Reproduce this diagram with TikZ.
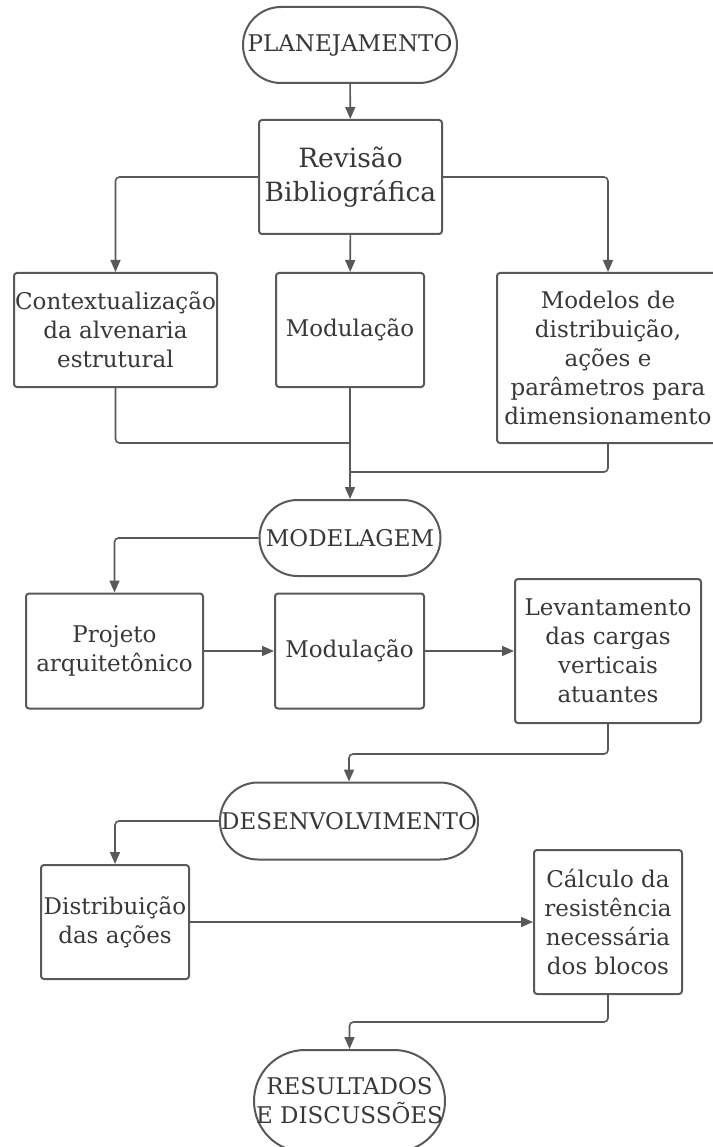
\documentclass[tikz,border=0pt]{standalone}
\usepackage{fontspec}
\setmainfont{DejaVu Serif}
\usepackage{xcolor}
\usetikzlibrary{arrows.meta,positioning}
\definecolor{linegray}{HTML}{595959}
\definecolor{textgray}{HTML}{383838}

\begin{document}
\begin{tikzpicture}[
  x=1pt, y=-1pt,
  every node/.style={font=\fontsize{23}{29}\selectfont, text=textgray},
  box/.style={draw=linegray, line width=2pt, rounded corners=3pt, align=center, inner sep=1pt},
  stadium/.style={draw=linegray, line width=2pt, rounded corners=#1, align=center, inner sep=1pt},
  arrow/.style={-{Triangle[length=12pt,width=10pt]}, draw=linegray, line width=1.6pt, rounded corners=4pt},
  link/.style={draw=linegray, line width=1.6pt, rounded corners=4pt}
]
\useasboundingbox (0,0) rectangle (712,1147);

% planejamento
\node[stadium=38pt, minimum width=214pt, minimum height=76pt] (plan) at (350,45) {PLANEJAMENTO};
\node[box, minimum width=183pt, minimum height=114pt, font=\fontsize{26.5}{34}\selectfont] (rev) at (350.5,177) {Revisão\\Bibliográfica};
\node[box, minimum width=203pt, minimum height=114pt] (ctx) at (115.5,330) {Contextualização\\da alvenaria\\estrutural};
\node[box, minimum width=148pt, minimum height=114pt] (mod1) at (350,330) {Modulação};
\node[box, minimum width=222pt, minimum height=170pt] (mdl) at (608,358) {Modelos de\\distribuição,\\ações e\\parâmetros para\\dimensionamento};
\coordinate (j1) at (350,443);
\coordinate (j2) at (350,472);

% modelagem
\node[stadium=38pt, minimum width=181pt, minimum height=76pt] (modl) at (350,538) {MODELAGEM};
\node[box, minimum width=177pt, minimum height=115pt] (proj) at (114.5,651) {Projeto\\arquitetônico};
\node[box, minimum width=149pt, minimum height=115pt] (mod2) at (349.5,651) {Modulação};
\node[box, minimum width=186pt, minimum height=144pt] (lev) at (608,651) {Levantamento\\das cargas\\verticais\\atuantes};

% desenvolvimento
\node[stadium=38pt, minimum width=258pt, minimum height=77pt] (desv) at (349,821) {DESENVOLVIMENTO};
\node[box, minimum width=148pt, minimum height=114pt] (dist) at (115,922) {Distribuição\\das ações};
\node[box, minimum width=148pt, minimum height=144pt] (calc) at (608,922) {Cálculo da\\resistência\\necessária\\dos blocos};
\node[stadium=51pt, minimum width=191pt, minimum height=102pt] (res) at (349.5,1101) {RESULTADOS\\E DISCUSSÕES};

\draw[arrow] (plan) -- (rev);
\draw[arrow] (rev.west) -| (ctx.north);
\draw[arrow] (rev) -- (mod1);
\draw[arrow] (rev.east) -| (mdl.north);
\draw[link] (ctx.south) |- (j1);
\draw[link] (mdl.south) |- (j2);
\draw[arrow] (mod1) -- (modl);

\draw[arrow] (modl.west) -| (proj.north);
\draw[arrow] (proj) -- (mod2);
\draw[arrow] (mod2) -- (lev);
\draw[arrow] (lev.south) -- ++(0,30) -| (desv.north);

\draw[arrow] (desv.west) -| (dist.north);
\draw[arrow] (dist) -- (calc);
\draw[arrow] (calc.south) -- ++(0,27) -| (res.north);
\end{tikzpicture}
\end{document}
